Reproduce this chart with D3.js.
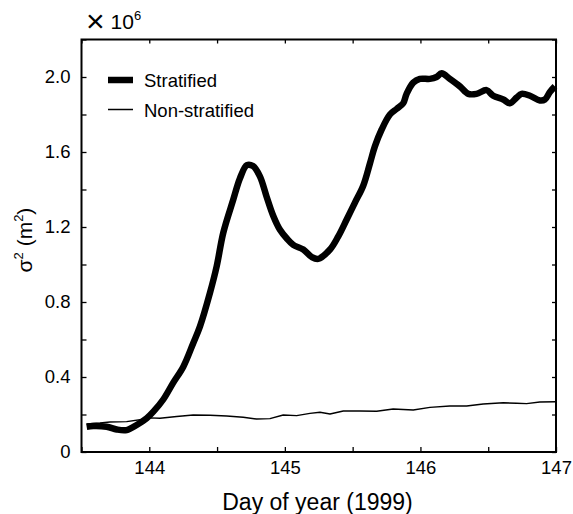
<!DOCTYPE html>
<html>
<head>
<meta charset="utf-8">
<script src="https://cdn.jsdelivr.net/npm/d3@7"></script>
<style>
  html, body { margin: 0; padding: 0; background: #fff; }
  svg { display: block; }
  text { font-family: "Liberation Sans", Arial, Helvetica, sans-serif; fill: #000; }
</style>
</head>
<body>
<svg id="chart" width="573" height="514"></svg>
<script>
// ---- data (day of year 1999, variance in units of 1e6 m^2) ----
const stratDays = [143.538, 143.587, 143.686, 143.760, 143.833, 143.907, 143.981, 144.030, 144.103, 144.177,
  144.251, 144.324, 144.374, 144.448, 144.497, 144.546, 144.619, 144.669, 144.720, 144.765,
  144.816, 144.866, 144.914, 144.964, 145.013, 145.062, 145.136, 145.198, 145.246, 145.333,
  145.394, 145.456, 145.517, 145.578, 145.628, 145.664, 145.714, 145.775, 145.825, 145.873,
  145.898, 145.947, 145.996, 146.070, 146.119, 146.156, 146.217, 146.291, 146.353, 146.414,
  146.488, 146.537, 146.611, 146.660, 146.709, 146.746, 146.808, 146.881, 146.918, 146.955, 146.992];
const stratValues = [0.135, 0.139, 0.135, 0.120, 0.117, 0.144, 0.180, 0.215, 0.280, 0.370,
  0.455, 0.580, 0.670, 0.850, 0.990, 1.170, 1.345, 1.460, 1.530, 1.525,
  1.470, 1.360, 1.260, 1.185, 1.140, 1.105, 1.080, 1.040, 1.030, 1.080,
  1.150, 1.240, 1.330, 1.420, 1.540, 1.630, 1.720, 1.800, 1.830, 1.860,
  1.910, 1.970, 1.990, 1.990, 2.000, 2.020, 1.990, 1.950, 1.910, 1.910,
  1.930, 1.900, 1.880, 1.860, 1.890, 1.910, 1.900, 1.875, 1.880, 1.920, 1.950];

const nonDays = [143.538, 143.636, 143.710, 143.833, 143.956, 144.005, 144.079, 144.202, 144.324, 144.448,
  144.571, 144.693, 144.792, 144.890, 144.988, 145.087, 145.185, 145.259, 145.333, 145.431,
  145.554, 145.677, 145.799, 145.947, 146.070, 146.217, 146.341, 146.463, 146.611, 146.709,
  146.783, 146.881, 147.000];
const nonValues = [0.150, 0.155, 0.160, 0.162, 0.175, 0.182, 0.180, 0.189, 0.197, 0.196,
  0.192, 0.185, 0.176, 0.178, 0.197, 0.194, 0.206, 0.212, 0.203, 0.219,
  0.219, 0.217, 0.229, 0.224, 0.238, 0.245, 0.245, 0.256, 0.263, 0.260,
  0.258, 0.267, 0.268];

const xTicks = [143.5, 144, 144.5, 145, 145.5, 146, 146.5, 147];
const xTickLabels = ["", "144", "", "145", "", "146", "", "147"];
const yTicks = [0, 0.2, 0.4, 0.6, 0.8, 1.0, 1.2, 1.4, 1.6, 1.8, 2.0, 2.2];
const yTickLabels = ["0", "", "0.4", "", "0.8", "", "1.2", "", "1.6", "", "2.0", ""];
const seriesNames = ["Stratified", "Non-stratified"];

// ---- layout ----
const svg = d3.select("#chart");
const L = 81.5, R = 556, T = 39.5, B = 452;
const x = d3.scaleLinear().domain([143.5, 147]).range([L, R]);
const y = d3.scaleLinear().domain([0, 2.2]).range([B, T]);

const fmtX = (d, i) => xTickLabels[i];
const fmtY = (d, i) => yTickLabels[i];

// axes
const gx = svg.append("g").attr("transform", `translate(0,${B})`)
  .call(d3.axisBottom(x).tickValues(xTicks).tickFormat(fmtX).tickSizeInner(-5).tickSizeOuter(0).tickPadding(9));
const gxt = svg.append("g").attr("transform", `translate(0,${T})`)
  .call(d3.axisTop(x).tickValues(xTicks).tickFormat("").tickSizeInner(-4).tickSizeOuter(0));
const gy = svg.append("g").attr("transform", `translate(${L},0)`)
  .call(d3.axisLeft(y).tickValues(yTicks).tickFormat(fmtY).tickSizeInner(-5).tickSizeOuter(0).tickPadding(11));
const gyr = svg.append("g").attr("transform", `translate(${R},0)`)
  .call(d3.axisRight(y).tickValues(yTicks).tickFormat("").tickSizeInner(-4).tickSizeOuter(0));

[gx, gxt, gy, gyr].forEach(g => {
  g.select(".domain").remove();
  g.selectAll(".tick line").attr("stroke", "#000").attr("stroke-width", 1.3);
  g.selectAll(".tick text").attr("font-size", 18.5).attr("font-family", "Liberation Sans, Arial, sans-serif").attr("fill", "#000");
});

// frame
svg.append("rect").attr("x", L).attr("y", T).attr("width", R - L).attr("height", B - T)
  .attr("fill", "none").attr("stroke", "#000").attr("stroke-width", 2);

// lines
const lineS = d3.line().x((d, i) => x(stratDays[i])).y(d => y(d)).curve(d3.curveCatmullRom.alpha(0.5));
const lineN = d3.line().x((d, i) => x(nonDays[i])).y(d => y(d));

svg.append("path").datum(nonValues).attr("d", lineN)
  .attr("fill", "none").attr("stroke", "#000").attr("stroke-width", 1.5).attr("stroke-linejoin", "round");
svg.append("path").datum(stratValues).attr("d", lineS)
  .attr("fill", "none").attr("stroke", "#000").attr("stroke-width", 6.5)
  .attr("stroke-linejoin", "round").attr("stroke-linecap", "butt");

// legend
const lg = svg.append("g");
lg.append("line").attr("x1", 108).attr("x2", 133).attr("y1", 80).attr("y2", 80)
  .attr("stroke", "#000").attr("stroke-width", 6.5);
lg.append("text").attr("x", 144).attr("y", 86.5).attr("font-size", 18.5).text(seriesNames[0]);
lg.append("line").attr("x1", 108).attr("x2", 133).attr("y1", 109.5).attr("y2", 109.5)
  .attr("stroke", "#000").attr("stroke-width", 1.5);
lg.append("text").attr("x", 144).attr("y", 116.5).attr("font-size", 18.5).text(seriesNames[1]);

// multiplier
const mult = svg.append("text").attr("x", 86).attr("y", 29).attr("font-size", 21);
mult.append("tspan").attr("font-size", 32).attr("dy", 3).text("×");
mult.append("tspan").attr("dy", -3).text(" 10");
mult.append("tspan").attr("font-size", 13).attr("dy", -9).text("6");

// axis titles
svg.append("text").attr("x", 317.5).attr("y", 509.5).attr("text-anchor", "middle")
  .attr("font-size", 23).text("Day of year (1999)");

const yt = svg.append("text").attr("transform", "translate(32,240) rotate(-90)")
  .attr("text-anchor", "middle").attr("font-size", 21);
yt.append("tspan").text("σ");
yt.append("tspan").attr("font-size", 13).attr("dy", -9).text("2");
yt.append("tspan").attr("dy", 9).text(" (m");
yt.append("tspan").attr("font-size", 13).attr("dy", -9).text("2");
yt.append("tspan").attr("dy", 9).text(")");
</script>
</body>
</html>
